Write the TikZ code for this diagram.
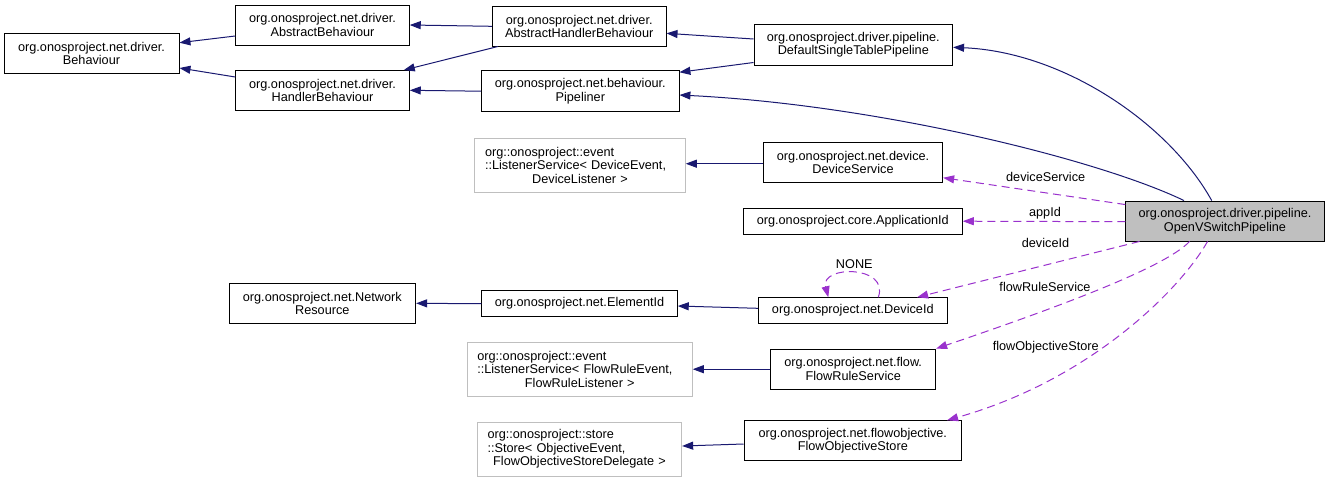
\documentclass[tikz,border=0pt]{standalone}
\usepackage{fontspec}
\setmainfont{Liberation Sans}
\usetikzlibrary{arrows.meta,calc}
\definecolor{edgeblue}{HTML}{191970}
\definecolor{edgepurple}{HTML}{9A32CD}
\definecolor{grayborder}{HTML}{BFBFBF}
\newcommand{\lftline}[1]{\makebox[\hsize][l]{#1}}
\tikzset{
  every node/.style={font=\fontsize{12.7}{13.5}\selectfont},
  box/.style={draw=black, line width=0.9pt, inner sep=0pt, align=center, fill=white},
  grbox/.style={draw=grayborder, line width=0.9pt, inner sep=0pt, align=center, fill=white},
  inh/.style={draw=edgeblue, line width=1pt, -{Triangle[length=11pt,width=8pt]}},
  use/.style={draw=edgepurple, line width=1pt, dash pattern=on 8pt off 5pt, -{Triangle[length=11pt,width=8pt]}},
  lbl/.style={inner sep=0pt}
}
\begin{document}
\begin{tikzpicture}[x=1pt,y=-1pt]
\useasboundingbox (0,0) rectangle (1331,483);
% nodes
\node[box, minimum width=175, minimum height=40] (beh) at (91.5,53.7) {org.onosproject.net.driver.\\Behaviour};
\node[box, minimum width=173.6, minimum height=40] (abs) at (322.5,25) {org.onosproject.net.driver.\\AbstractBehaviour};
\node[box, minimum width=173.6, minimum height=39.5] (hb) at (322.5,90.3) {org.onosproject.net.driver.\\HandlerBehaviour};
\node[box, minimum width=173.7, minimum height=39.5] (ahb) at (579.2,26.3) {org.onosproject.net.driver.\\AbstractHandlerBehaviour};
\node[box, minimum width=197.3, minimum height=41] (pip) at (580.3,91.2) {org.onosproject.net.behaviour.\\Pipeliner};
\node[box, minimum width=198.7, minimum height=40.7] (dst) at (853.3,44.7) {org.onosproject.driver.pipeline.\\DefaultSingleTablePipeline};
\node[grbox, minimum width=210.6, minimum height=54, text width=190] (ls1) at (580,165.3) {\lftline{org::onosproject::event}\\\lftline{::ListenerService< DeviceEvent,}\\DeviceListener >};
\node[box, minimum width=179.4, minimum height=39.6] (ds) at (853,162.5) {org.onosproject.net.device.\\DeviceService};
\node[box, minimum width=219, minimum height=25.7] (app) at (852.8,221.2) {org.onosproject.core.ApplicationId};
\node[box, fill={rgb,255:red,191;green,191;blue,191}, minimum width=198.6, minimum height=40] (ovs) at (1225,221) {org.onosproject.driver.pipeline.\\OpenVSwitchPipeline};
\node[box, minimum width=186.7, minimum height=40] (nr) at (322.3,303.3) {org.onosproject.net.Network\\Resource};
\node[box, minimum width=195.6, minimum height=26] (eid) at (579.5,303.7) {org.onosproject.net.ElementId};
\node[box, minimum width=189, minimum height=25.6] (did) at (852.8,310.5) {org.onosproject.net.DeviceId};
\node[grbox, minimum width=225, minimum height=53.7, text width=205] (ls2) at (579.8,369.2) {\lftline{org::onosproject::event}\\\lftline{::ListenerService< FlowRuleEvent,}\\FlowRuleListener >};
\node[box, minimum width=165, minimum height=40.3] (frs) at (853.2,369.2) {org.onosproject.net.flow.\\FlowRuleService};
\node[grbox, minimum width=204.4, minimum height=54, text width=184] (st) at (579.5,449) {\lftline{org::onosproject::store}\\\lftline{::Store< ObjectiveEvent,}\\FlowObjectiveStoreDelegate >};
\node[box, minimum width=217.7, minimum height=40] (fos) at (852.8,440.7) {org.onosproject.net.flowobjective.\\FlowObjectiveStore};
% inheritance edges
\draw[inh] ($(abs.west)+(0,11)$) -- ($(beh.east)+(0,-11)$);
\draw[inh] ($(hb.west)+(0,-13.3)$) -- ($(beh.east)+(0,14.3)$);
\draw[inh] (ahb.west) -- (abs.east);
\draw[inh] ($(ahb.south west)+(6,0)$) -- ($(hb.north east)+(-6,0)$);
\draw[inh] (pip.west) -- (hb.east);
\draw[inh] ($(dst.west)+(0,-5.7)$) -- ($(ahb.east)+(0,7)$);
\draw[inh] ($(dst.south west)+(0,-3)$) -- ($(pip.north east)+(0,2)$);
\draw[inh] ($(ds.west)+(0,1.2)$) -- ($(ls1.east)+(0,-1.6)$);
\draw[inh] (eid.west) -- (nr.east);
\draw[inh] ($(did.west)+(0,-2.2)$) -- ($(eid.east)+(0,2.3)$);
\draw[inh] (frs.west) -- (ls2.east);
\draw[inh] ($(fos.west)+(0,3.3)$) -- ($(st.east)+(0,-3)$);
\draw[inh] ($(ovs.north)+(-13.3,0)$) .. controls (1170,125) and (1065,52) .. ($(dst.east)+(0,2.6)$);
\draw[inh] ($(ovs.north)+(-41,0)$) .. controls (1100,160) and (880,105) .. ($(pip.east)+(0,3.8)$);
% usage edges
\draw[use] ($(ovs.north west)+(0,4)$) -- ($(ds.south east)+(0,-5)$);
\node[lbl] (l1) at (1045.7,176.7) {deviceService};
\draw[use] ($(ovs.west)+(0,0.7)$) -- (app.east);
\node[lbl] (l2) at (1045,213.3) {appId};
\draw[use] ($(ovs.south west)+(14.3,0)$) -- ($(did.north east)+(-30.6,0)$);
\node[lbl] (l3) at (1045.5,243.3) {deviceId};
\draw[use] ($(did.north)+(25.5,0)$) .. controls (890,265) and (820,265) .. ($(did.north)+(-24.5,0)$);
\node[lbl] (l4) at (854.3,264.3) {NONE};
\draw[use] ($(ovs.south west)+(64.3,0)$) .. controls (1165,268) and (1050,310) .. (frs.north east);
\node[lbl] (l5) at (1045,287.3) {flowRuleService};
\draw[use] ($(ovs.south west)+(82.3,0)$) .. controls (1180,290) and (1090,380) .. ($(fos.north east)+(-15,0)$);
\node[lbl] (l6) at (1045.7,347.3) {flowObjectiveStore};
\end{tikzpicture}
\end{document}
